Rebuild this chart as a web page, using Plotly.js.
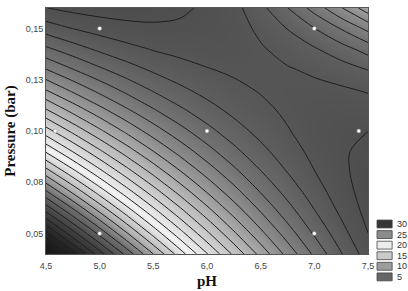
<!DOCTYPE html>
<html>
<head>
<meta charset="utf-8">
<script src="https://cdn.plot.ly/plotly-3.0.1.min.js"></script>
<style>html,body{margin:0;padding:0;background:#fff;}#chart{width:408px;height:291px;}</style>
</head>
<body>
<div id="chart"></div>
<script>
// pH grid (x) and pressure grid (y), bar
var phGrid = [4.5, 4.75, 5.0, 5.25, 5.5, 5.75, 6.0, 6.25, 6.5, 6.75, 7.0, 7.25, 7.5];
var pressureGrid = [0.04, 0.05, 0.06, 0.07, 0.08, 0.09, 0.10, 0.11, 0.12, 0.13, 0.14, 0.15, 0.16];
// response values (rows = pressure, cols = pH)
var response = [
  [32.47, 29.40, 26.47, 23.67, 21.00, 18.47, 16.07, 13.80, 11.67, 9.67, 7.81, 6.07, 4.48],
  [29.24, 26.40, 23.70, 21.13, 18.69, 16.39, 14.22, 12.18, 10.28, 8.51, 6.88, 5.38, 4.01],
  [26.17, 23.56, 21.09, 18.75, 16.54, 14.47, 12.53, 10.72, 9.05, 7.51, 6.11, 4.84, 3.70],
  [23.25, 20.88, 18.63, 16.52, 14.55, 12.70, 10.99, 9.42, 7.98, 6.67, 5.49, 4.45, 3.54],
  [20.49, 18.35, 16.33, 14.45, 12.71, 11.09, 9.61, 8.27, 7.06, 5.98, 5.03, 4.22, 3.54],
  [17.89, 15.97, 14.19, 12.54, 11.02, 9.64, 8.39, 7.27, 6.29, 5.44, 4.73, 4.15, 3.70],
  [15.44, 13.75, 12.20, 10.78, 9.49, 8.34, 7.32, 6.43, 5.68, 5.06, 4.58, 4.23, 4.01],
  [13.15, 11.69, 10.37, 9.18, 8.12, 7.20, 6.41, 5.75, 5.23, 4.84, 4.59, 4.46, 4.48],
  [11.01, 9.78, 8.69, 7.73, 6.90, 6.21, 5.65, 5.22, 4.93, 4.77, 4.75, 4.86, 5.10],
  [9.03, 8.03, 7.17, 6.44, 5.84, 5.38, 5.05, 4.85, 4.82, 4.92, 5.16, 5.53, 6.03],
  [7.20, 6.44, 5.80, 5.30, 4.93, 4.70, 4.60, 4.64, 4.90, 5.34, 5.90, 6.59, 7.42],
  [5.53, 4.99, 4.59, 4.32, 4.18, 4.18, 4.31, 4.58, 5.20, 6.03, 6.97, 8.06, 9.28],
  [4.02, 3.71, 3.54, 3.50, 3.59, 3.82, 4.18, 4.67, 5.71, 6.98, 8.39, 9.93, 11.60]
];
// experimental design points
var designPH = [5.0, 7.0, 4.586, 6.0, 7.414, 5.0, 7.0];
var designP = [0.15, 0.15, 0.10, 0.10, 0.10, 0.05, 0.05];
// tick labels
var xTickVals = [4.5, 5.0, 5.5, 6.0, 6.5, 7.0, 7.5];
var xTickText = ['4,5', '5,0', '5,5', '6,0', '6,5', '7,0', '7,5'];
var yTickVals = [0.05, 0.075, 0.10, 0.125, 0.15];
var yTickText = ['0,05', '0,08', '0,10', '0,13', '0,15'];
// legend
var legendLabels = ['30', '25', '20', '15', '10', '5'];
var legendColors = ['#363636', '#8c8c8c', '#ececec', '#cacaca', '#9c9c9c', '#666666'];

var zmin = 3, zmax = 33;
function frac(v) { return (v - zmin) / (zmax - zmin); }
var colorscale = [
  [0, '#4a4a4a'],
  [frac(4.5), '#525252'],
  [frac(6), '#5e5e5e'],
  [frac(8), '#727272'],
  [frac(10), '#8c8c8c'],
  [frac(13), '#b8b8b8'],
  [frac(17.5), '#f2f2f2'],
  [frac(20.5), '#b4b4b4'],
  [frac(23), '#6e6e6e'],
  [frac(26), '#404040'],
  [frac(29), '#242424'],
  [1, '#121212']
];

var traces = [
  {
    type: 'contour', x: phGrid, y: pressureGrid, z: response,
    zmin: zmin, zmax: zmax, colorscale: colorscale, showscale: false,
    contours: {start: 1, end: 40, size: 1, coloring: 'heatmap'},
    line: {color: '#1e1e1e', width: 1.0, smoothing: 1.0},
    hoverinfo: 'skip'
  },
  {
    type: 'scatter', mode: 'markers', x: designPH, y: designP,
    marker: {size: 4, color: '#ffffff', line: {color: '#777777', width: 0.5}},
    showlegend: false, hoverinfo: 'skip'
  }
];

var shapes = [], annotations = [];
var boxLeft = 1.028, boxRight = 1.075, boxTop = 0.138, boxH = 0.032, boxStep = 0.043;
legendLabels.forEach(function (lab, i) {
  var yt = boxTop - i * boxStep;
  shapes.push({type: 'rect', xref: 'paper', yref: 'paper', x0: boxLeft, x1: boxRight,
    y0: yt - boxH, y1: yt, fillcolor: legendColors[i], line: {color: '#444', width: 0.8}});
  annotations.push({xref: 'paper', yref: 'paper', x: boxRight + 0.008, y: yt - boxH / 2,
    xanchor: 'left', yanchor: 'middle', text: lab, showarrow: false,
    font: {family: 'Liberation Sans, Arial, sans-serif', size: 9, color: '#333'}});
});

var layout = {
  width: 408, height: 291,
  margin: {l: 46, r: 40, t: 8, b: 37},
  paper_bgcolor: '#ffffff', plot_bgcolor: '#ffffff',
  showlegend: false,
  xaxis: {
    range: [4.5, 7.5], tickvals: xTickVals, ticktext: xTickText,
    showgrid: false, zeroline: false, showline: true, mirror: true,
    linecolor: '#555', linewidth: 1, ticks: 'outside', ticklen: 3, tickcolor: 'rgba(0,0,0,0)',
    tickfont: {family: 'Liberation Sans, Arial, sans-serif', size: 9, color: '#444'},
    title: {text: 'pH', standoff: 5,
      font: {family: 'Liberation Serif, Times New Roman, serif', size: 15, color: '#111', weight: 'bold'}}
  },
  yaxis: {
    range: [0.04, 0.16], tickvals: yTickVals, ticktext: yTickText,
    showgrid: false, zeroline: false, showline: true, mirror: true,
    linecolor: '#555', linewidth: 1, ticks: '',
    tickfont: {family: 'Liberation Sans, Arial, sans-serif', size: 9, color: '#444'},
    title: {text: 'Pressure (bar)', standoff: 6,
      font: {family: 'Liberation Serif, Times New Roman, serif', size: 15, color: '#111', weight: 'bold'}}
  },
  shapes: shapes,
  annotations: annotations
};

Plotly.newPlot('chart', traces, layout, {staticPlot: true, displayModeBar: false});
</script>
</body>
</html>
